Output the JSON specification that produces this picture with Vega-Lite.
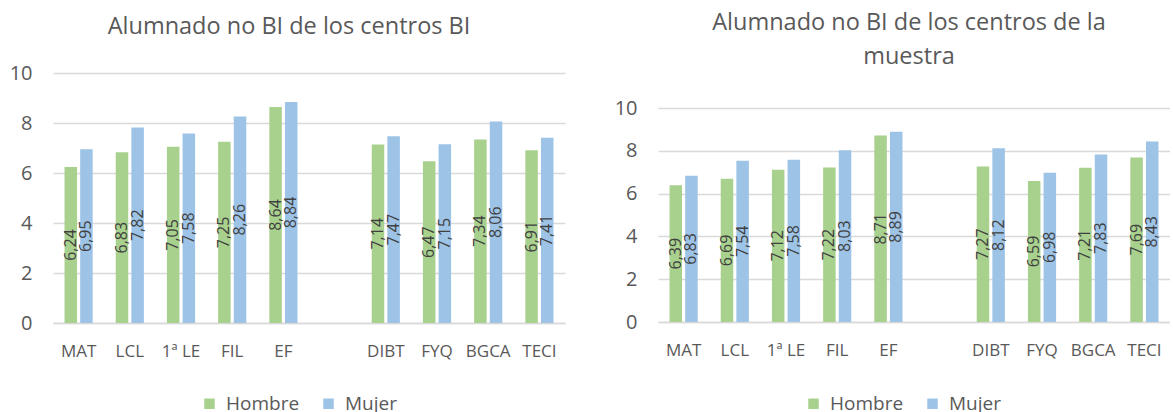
{
  "$schema": "https://vega.github.io/schema/vega-lite/v6.json",
  "padding": {"left": 9, "top": 10, "right": 0, "bottom": 0},
  "background": "white",
  "datasets": {
    "bi": [
      {"cat": "MAT", "sexo": "Hombre", "valor": 6.24}, {"cat": "MAT", "sexo": "Mujer", "valor": 6.95},
      {"cat": "LCL", "sexo": "Hombre", "valor": 6.83}, {"cat": "LCL", "sexo": "Mujer", "valor": 7.82},
      {"cat": "1ª LE", "sexo": "Hombre", "valor": 7.05}, {"cat": "1ª LE", "sexo": "Mujer", "valor": 7.58},
      {"cat": "FIL", "sexo": "Hombre", "valor": 7.25}, {"cat": "FIL", "sexo": "Mujer", "valor": 8.26},
      {"cat": "EF", "sexo": "Hombre", "valor": 8.64}, {"cat": "EF", "sexo": "Mujer", "valor": 8.84},
      {"cat": "DIBT", "sexo": "Hombre", "valor": 7.14}, {"cat": "DIBT", "sexo": "Mujer", "valor": 7.47},
      {"cat": "FYQ", "sexo": "Hombre", "valor": 6.47}, {"cat": "FYQ", "sexo": "Mujer", "valor": 7.15},
      {"cat": "BGCA", "sexo": "Hombre", "valor": 7.34}, {"cat": "BGCA", "sexo": "Mujer", "valor": 8.06},
      {"cat": "TECI", "sexo": "Hombre", "valor": 6.91}, {"cat": "TECI", "sexo": "Mujer", "valor": 7.41}
    ],
    "muestra": [
      {"cat": "MAT", "sexo": "Hombre", "valor": 6.39}, {"cat": "MAT", "sexo": "Mujer", "valor": 6.83},
      {"cat": "LCL", "sexo": "Hombre", "valor": 6.69}, {"cat": "LCL", "sexo": "Mujer", "valor": 7.54},
      {"cat": "1ª LE", "sexo": "Hombre", "valor": 7.12}, {"cat": "1ª LE", "sexo": "Mujer", "valor": 7.58},
      {"cat": "FIL", "sexo": "Hombre", "valor": 7.22}, {"cat": "FIL", "sexo": "Mujer", "valor": 8.03},
      {"cat": "EF", "sexo": "Hombre", "valor": 8.71}, {"cat": "EF", "sexo": "Mujer", "valor": 8.89},
      {"cat": "DIBT", "sexo": "Hombre", "valor": 7.27}, {"cat": "DIBT", "sexo": "Mujer", "valor": 8.12},
      {"cat": "FYQ", "sexo": "Hombre", "valor": 6.59}, {"cat": "FYQ", "sexo": "Mujer", "valor": 6.98},
      {"cat": "BGCA", "sexo": "Hombre", "valor": 7.21}, {"cat": "BGCA", "sexo": "Mujer", "valor": 7.83},
      {"cat": "TECI", "sexo": "Hombre", "valor": 7.69}, {"cat": "TECI", "sexo": "Mujer", "valor": 8.43}
    ]
  },
  "spacing": 49,
  "resolve": {"legend": {"color": "independent"}, "scale": {"color": "independent"}},
  "hconcat": [
    {
      "width": 512,
      "height": 250,
      "title": {"text": "Alumnado no BI de los centros BI", "offset": 25, "dx": -20},
      "data": {"name": "bi"},
      "encoding": {
        "x": {"field": "cat", "type": "nominal", "sort": null, "title": null,
          "scale": {"domain": ["MAT", "LCL", "1ª LE", "FIL", "EF", " ", "DIBT", "FYQ", "BGCA", "TECI"], "paddingInner": 0.45, "paddingOuter": 0.225},
          "axis": {"labelAngle": 0, "ticks": false, "labelPadding": 20, "domainColor": "#D9D9D9", "domainWidth": 1.5}},
        "xOffset": {"field": "sexo", "type": "nominal", "scale": {"domain": ["Hombre", "Mujer"], "paddingInner": 0.2, "paddingOuter": 0}},
        "color": {"field": "sexo", "type": "nominal", "title": null,
          "scale": {"domain": ["Hombre", "Mujer"], "range": ["#A9D18E", "#9DC3E6"]},
          "legend": {"orient": "none", "direction": "horizontal", "legendX": 147, "legendY": 321}}
      },
      "layer": [
        {"mark": {"type": "bar"},
         "encoding": {"y": {"field": "valor", "type": "quantitative", "title": null,
           "scale": {"domain": [0, 10], "nice": false},
           "axis": {"values": [0, 2, 4, 6, 8, 10], "ticks": false, "domain": false, "labelPadding": 21, "labelFontSize": 20, "gridColor": "#D9D9D9", "gridWidth": 1.5}}}},
        {"mark": {"type": "text", "angle": 270, "align": "center", "baseline": "middle", "fontSize": 16, "font": "Open Sans"},
         "encoding": {"y": {"field": "valor", "type": "quantitative", "scale": {"domain": [0, 20], "nice": false}, "axis": null},
           "text": {"field": "valor", "type": "quantitative", "format": ".2f"},
           "color": {"value": "#404040"}}}
      ],
      "resolve": {"scale": {"y": "independent"}}
    },
    {
      "width": 512,
      "height": 249,
      "title": {"text": ["Alumnado no BI de los centros de la", "muestra"], "offset": 5, "lineHeight": 34, "dx": -5},
      "data": {"name": "muestra"},
      "encoding": {
        "x": {"field": "cat", "type": "nominal", "sort": null, "title": null,
          "scale": {"domain": ["MAT", "LCL", "1ª LE", "FIL", "EF", " ", "DIBT", "FYQ", "BGCA", "TECI"], "paddingInner": 0.45, "paddingOuter": 0.225},
          "axis": {"labelAngle": 0, "ticks": false, "labelPadding": 20, "domainColor": "#D9D9D9", "domainWidth": 1.5}},
        "xOffset": {"field": "sexo", "type": "nominal", "scale": {"domain": ["Hombre", "Mujer"], "paddingInner": 0.2, "paddingOuter": 0}},
        "color": {"field": "sexo", "type": "nominal", "title": null,
          "scale": {"domain": ["Hombre", "Mujer"], "range": ["#A9D18E", "#9DC3E6"]},
          "legend": {"orient": "none", "direction": "horizontal", "legendX": 146, "legendY": 321}}
      },
      "layer": [
        {"mark": {"type": "bar"},
         "encoding": {"y": {"field": "valor", "type": "quantitative", "title": null,
           "scale": {"domain": [0, 11.636], "nice": false},
           "axis": {"values": [0, 2, 4, 6, 8, 10], "ticks": false, "domain": false, "labelPadding": 21, "labelFontSize": 20, "gridColor": "#D9D9D9", "gridWidth": 1.5}}}},
        {"mark": {"type": "text", "angle": 270, "align": "center", "baseline": "middle", "fontSize": 16, "font": "Open Sans"},
         "encoding": {"y": {"field": "valor", "type": "quantitative", "scale": {"domain": [0, 23.272], "nice": false}, "axis": null},
           "text": {"field": "valor", "type": "quantitative", "format": ".2f"},
           "color": {"value": "#404040"}}}
      ],
      "resolve": {"scale": {"y": "independent"}}
    }
  ],
  "config": {
    "locale": {"number": {"decimal": ",", "thousands": ".", "grouping": [3], "currency": ["", " €"]}},
    "view": {"stroke": null},
    "font": "Open Sans",
    "title": {"fontSize": 23.5, "fontWeight": "normal", "color": "#595959", "font": "Open Sans", "anchor": "middle"},
    "axis": {"labelFont": "Open Sans", "labelFontSize": 17, "labelColor": "#595959"},
    "legend": {"labelFont": "Open Sans", "labelFontSize": 19, "labelColor": "#595959", "symbolType": "square", "symbolSize": 110, "symbolStrokeWidth": 0, "symbolOpacity": 1, "columnPadding": 19, "labelOffset": 7}
  }
}
